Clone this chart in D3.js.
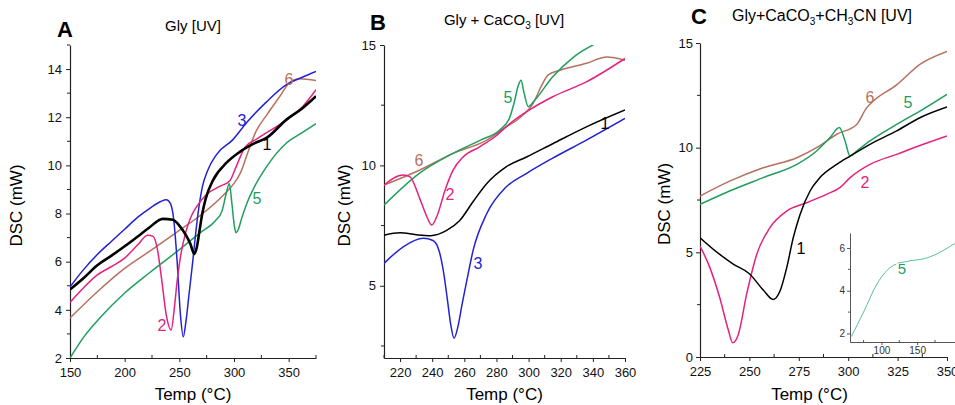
<!DOCTYPE html>
<html>
<head>
<meta charset="utf-8">
<script src="https://cdn.jsdelivr.net/npm/d3@7"></script>
<style>
  body { margin: 0; background: #fff; }
  svg text { font-family: "Liberation Sans", Arial, sans-serif; }
</style>
</head>
<body>
<div id="chart"></div>
<script>
// ---- data: [temp, DSC] ----
// panel A: Gly [UV]
var gly1 = [[150,4.84],[162,5.3],[175,5.85],[188,6.25],[200,6.64],[212,7.05],[222,7.4],[235,7.78],[244,7.74],[250,7.5],[256,7.1],[260,6.75],[263.7,6.32],[266,6.6],[268.5,7.3],[271,8.0],[274,8.6],[281,9.4],[293,10.1],[305,10.55],[318,10.9],[330,11.15],[348,11.9],[362,12.35],[375,12.87]];
var gly2 = [[150,4.31],[162,4.9],[175,5.45],[188,5.8],[200,6.15],[212,6.7],[221,7.1],[226,7.05],[230,6.5],[234,5.2],[238,3.8],[242.5,3.16],[245.5,4.1],[248,5.2],[251,6.2],[256,7.25],[261,7.9],[266,8.3],[275,8.8],[287,9.13],[296,9.35],[302,9.95],[310,10.75],[321,11.1],[345,11.8],[362,12.4],[375,13.14]];
var gly3 = [[150,4.95],[162,5.65],[175,6.3],[188,6.85],[200,7.35],[212,7.85],[224,8.25],[233,8.5],[238,8.57],[242,8.4],[245,7.7],[248,6.0],[251,3.8],[253.6,2.88],[256,3.5],[259,4.7],[262,5.9],[265,7.2],[268,8.3],[271,9.1],[276,9.8],[284,10.45],[299,11.07],[312,11.8],[330,12.65],[348,13.35],[362,13.65],[375,13.9]];
var gly5 = [[150,2.0],[163,2.9],[177,3.65],[200,4.7],[223,5.55],[250,6.5],[269,7.2],[283,7.7],[289,8.1],[293,8.85],[295.7,9.25],[298,8.45],[300,7.6],[301.8,7.2],[304,7.35],[307,7.8],[312,8.45],[318,9.05],[330,9.96],[348,10.93],[362,11.35],[375,11.73]];
var gly6 = [[150,3.66],[175,4.75],[200,5.72],[225,6.5],[250,7.3],[270,7.95],[290,8.75],[300,9.25],[306,9.7],[312,10.45],[320,11.4],[330,12.1],[342,12.87],[351,13.45],[360,13.6],[375,13.52]];

// panel B: Gly + CaCO3 [UV]
var caco1 = [[210,7.1],[220,7.2],[230,7.12],[239,7.08],[249,7.3],[257,7.7],[265.5,8.5],[274,9.25],[286,9.94],[299,10.36],[315,10.9],[336,11.6],[360,12.3]];
var caco2 = [[210,9.18],[222,9.6],[226,9.53],[232.4,8.6],[236.5,7.9],[239.7,7.52],[243,7.9],[248,8.97],[253,9.8],[259.4,10.36],[269.8,10.78],[279,11.19],[288.4,11.74],[298.8,12.23],[315,12.85],[336,13.47],[360,14.44]];
var caco3 = [[210,5.93],[222,6.62],[234.5,6.97],[240.5,6.88],[244.5,6.4],[247,5.6],[249.5,4.4],[251.5,3.4],[253.6,2.82],[256,3.3],[258.5,4.2],[261.5,5.2],[265.5,6.48],[274,8.0],[286,9.1],[298.8,9.67],[315,10.3],[336,11.05],[360,11.95]];
var caco5 = [[210,8.35],[232,9.67],[253,10.5],[270,11.05],[282,11.47],[288,11.95],[291,12.6],[293.5,13.3],[295.3,13.54],[297.2,13.0],[299.8,12.44],[303,12.64],[315,13.68],[328,14.5],[346,15.2]];
var caco6 = [[210,9.18],[232,9.8],[253,10.5],[274,11.05],[286,11.6],[295,12.0],[303,12.6],[308,13.3],[312,13.75],[319.5,13.95],[336,14.24],[348.6,14.5],[360,14.37]];

// panel C: Gly+CaCO3+CH3CN [UV]
var acn1 = [[225,5.7],[235,4.9],[242,4.43],[250,3.98],[257,3.2],[262,2.75],[265.5,3.15],[268.9,4.27],[272.2,5.7],[275.6,6.8],[280.7,7.93],[285.7,8.57],[294.2,9.2],[301,9.6],[311,10.16],[324.5,10.8],[336.3,11.43],[350,11.94]];
var acn2 = [[225,5.3],[230,4.27],[235,2.83],[239.3,1.3],[241.5,0.68],[244.4,1.08],[248.6,3.0],[253.7,4.9],[260.4,6.18],[268.9,6.97],[279,7.37],[289,7.77],[295.8,8.09],[301,8.57],[311,9.2],[324.5,9.68],[338,10.16],[350,10.56]];
var acn5 = [[225,7.29],[240,7.93],[257,8.57],[274,9.2],[284,9.84],[290.8,10.48],[295.5,10.96],[298.4,10.32],[300.9,9.6],[304.3,9.84],[311,10.32],[324.5,11.11],[336.3,11.75],[350,12.55]];
var acn6 = [[225,7.69],[240,8.4],[257,9.04],[274,9.52],[284,10.0],[294.2,10.64],[304.3,11.11],[309.3,11.9],[312.7,12.23],[324.5,13.0],[336.3,13.98],[350,14.6]];
// inset of panel C, curve 5
var inset5a = [[58,1.86],[75,3.0],[94,4.33],[105,4.85],[117,5.19],[121,5.25]];
var inset5b = [[123,5.29],[140,5.4],[160,5.5],[180,5.76],[195,6.05],[210,6.35]];

// ticks
var ticksA_x = [150, 200, 250, 300, 350], minorA_x = [175, 225, 275, 325, 375];
var ticksA_y = [2, 4, 6, 8, 10, 12, 14], minorA_y = [3, 5, 7, 9, 11, 13, 15];
var ticksB_x = [220, 240, 260, 280, 300, 320, 340, 360], minorB_x = [210, 230, 250, 270, 290, 310, 330, 350];
var ticksB_y = [5, 10, 15], minorB_y = [2.5, 7.5, 12.5];
var ticksC_x = [225, 250, 275, 300, 325, 350], minorC_x = [237.5, 262.5, 287.5, 312.5, 337.5];
var ticksC_y = [0, 5, 10, 15], minorC_y = [2.5, 7.5, 12.5];
var ticksIn_x = [100, 150], ticksIn_y = [2, 4, 6];

var col = {"1": "#000000", "2": "#e3227f", "3": "#2222d4", "5": "#1f9e5e", "6": "#b8705f"};
var fnt = "Liberation Sans, Arial, sans-serif";

var svg = d3.select("#chart").append("svg")
  .attr("width", 955).attr("height", 405);

var clipN = 0;
function panel(p) {
  var x = d3.scaleLinear().domain(p.xd).range(p.xr);
  var y = d3.scaleLinear().domain(p.yd).range(p.yr);
  var g = svg.append("g");

  var id = "clip" + (clipN++);
  svg.append("clipPath").attr("id", id).append("rect")
    .attr("x", p.xr[0]).attr("y", p.yr[1])
    .attr("width", p.xr[1] - p.xr[0]).attr("height", p.yr[0] - p.yr[1]);

  // axes
  var xa = g.append("g").attr("transform", "translate(0," + p.yr[0] + ")")
    .call(d3.axisBottom(x).tickValues(p.tx).tickSize(4).tickPadding(6).tickSizeOuter(0).tickFormat(d3.format("d")));
  xa.append("g").selectAll("line").data(p.mx).join("line")
    .attr("x1", d => x(d)).attr("x2", d => x(d)).attr("y1", 0).attr("y2", -3)
    .attr("stroke", "#222");
  var ya = g.append("g").attr("transform", "translate(" + p.xr[0] + ",0)")
    .call(d3.axisLeft(y).tickValues(p.ty).tickSize(4).tickPadding(p.ypad).tickSizeOuter(0).tickFormat(d3.format("d")));
  ya.append("g").selectAll("line").data(p.my).join("line")
    .attr("y1", d => y(d)).attr("y2", d => y(d)).attr("x1", 0).attr("x2", -3)
    .attr("stroke", "#222");
  g.selectAll(".domain").attr("stroke", "#222").attr("stroke-width", 1.2);
  g.selectAll(".tick line").attr("stroke", "#222");
  g.selectAll(".tick text").attr("font-size", 13).attr("fill", "#111").attr("font-family", fnt);

  // curves
  var line = d3.line().x(d => x(d[0])).y(d => y(d[1])).curve(d3.curveMonotoneX);
  g.append("g").attr("clip-path", "url(#" + id + ")")
    .selectAll("path").data(p.series).join("path")
      .attr("d", d => line(d.values))
      .attr("fill", "none")
      .attr("stroke", d => col[d.name])
      .attr("stroke-width", d => d.w || 1.5)
      .attr("stroke-linejoin", "round");

  // curve numbers
  g.selectAll(".lab").data(p.labels).join("text")
    .attr("x", d => d[1]).attr("y", d => d[2])
    .attr("font-size", 16).attr("text-anchor", "middle").attr("dy", "0.35em")
    .attr("font-family", fnt)
    .attr("fill", d => col[d[0]])
    .text(d => d[0]);

  // axis titles
  g.append("text").attr("x", (p.xr[0] + p.xr[1]) / 2 + p.xt).attr("y", 400)
    .attr("text-anchor", "middle").attr("font-size", 17).attr("font-family", fnt).text("Temp (°C)");
  g.append("text").attr("transform", "translate(" + p.yl + "," + ((p.yr[0] + p.yr[1]) / 2 + 4) + ") rotate(-90)")
    .attr("text-anchor", "middle").attr("font-size", 17).attr("font-family", fnt).text("DSC (mW)");

  // panel letter + title
  g.append("text").attr("x", p.letter[1]).attr("y", p.letter[2]).attr("font-family", fnt)
    .attr("font-size", 22).attr("font-weight", "bold").text(p.letter[0]);
  var t = g.append("text").attr("x", p.title[0]).attr("y", p.title[1])
    .attr("text-anchor", "middle").attr("font-size", p.title[2] || 15).attr("font-family", fnt);
  p.titleParts.forEach(function(s) {
    if (s[1]) {
      t.append("tspan").attr("font-size", 10).attr("dy", 4).text(s[0]);
    } else {
      t.append("tspan").attr("dy", s[2] || 0).text(s[0]);
    }
  });
  return {x: x, y: y};
}

panel({
  xd: [150, 375], xr: [70, 316], yd: [2, 15], yr: [358, 45],
  tx: ticksA_x, mx: minorA_x, ty: ticksA_y, my: minorA_y, ypad: 4,
  series: [
    {name: "6", values: gly6}, {name: "5", values: gly5}, {name: "3", values: gly3},
    {name: "2", values: gly2}, {name: "1", values: gly1, w: 2.6}
  ],
  labels: [["3", 242, 120], ["1", 267, 144], ["6", 289, 79], ["5", 257, 198], ["2", 162, 325]],
  xt: 0, yl: 22,
  letter: ["A", 57, 37], title: [193, 31],
  titleParts: [["Gly [UV]"]]
});

panel({
  xd: [210, 360], xr: [384, 625], yd: [2, 15], yr: [358, 45],
  tx: ticksB_x, mx: minorB_x, ty: ticksB_y, my: minorB_y, ypad: 4,
  series: [
    {name: "6", values: caco6}, {name: "5", values: caco5}, {name: "2", values: caco2},
    {name: "3", values: caco3}, {name: "1", values: caco1}
  ],
  labels: [["6", 419, 160], ["2", 450, 194], ["5", 508, 97], ["1", 605, 123], ["3", 478, 263]],
  xt: 0, yl: 350,
  letter: ["B", 370, 30], title: [504, 25],
  titleParts: [["Gly + CaCO"], ["3", true], [" [UV]", false, -4]]
});

panel({
  xd: [225, 350], xr: [700, 947], yd: [0, 15], yr: [357, 43],
  tx: ticksC_x, mx: minorC_x, ty: ticksC_y, my: minorC_y, ypad: 3,
  series: [
    {name: "6", values: acn6}, {name: "5", values: acn5}, {name: "2", values: acn2},
    {name: "1", values: acn1}
  ],
  labels: [["6", 870, 97], ["5", 908, 102], ["2", 865, 182], ["1", 801, 248]],
  xt: -14, yl: 670,
  letter: ["C", 691, 24], title: [822, 21, 16],
  titleParts: [["Gly+CaCO"], ["3", true], ["+CH", false, -4], ["3", true], ["CN [UV]", false, -4]]
});

// inset in panel C
var ix = d3.scaleLinear().domain([56, 210]).range([850, 960]);
var iy = d3.scaleLinear().domain([1.6, 6.7]).range([342, 233]);
var ig = svg.append("g");
ig.append("g").attr("transform", "translate(0,342)")
  .call(d3.axisBottom(ix).tickValues(ticksIn_x).tickSize(3).tickPadding(2).tickSizeOuter(0).tickFormat(d3.format("d")));
ig.append("g").attr("transform", "translate(850,0)")
  .call(d3.axisLeft(iy).tickValues(ticksIn_y).tickSize(3).tickPadding(2).tickSizeOuter(0).tickFormat(d3.format("d")));
ig.append("g").selectAll("line").data([3, 5]).join("line")
  .attr("x1", 850).attr("x2", 848).attr("y1", d => iy(d)).attr("y2", d => iy(d)).attr("stroke", "#555");
ig.append("g").selectAll("line").data([75, 125, 175]).join("line")
  .attr("y1", 342).attr("y2", 340).attr("x1", d => ix(d)).attr("x2", d => ix(d)).attr("stroke", "#555");
ig.selectAll(".domain").attr("stroke", "#555");
ig.selectAll(".tick line").attr("stroke", "#555");
ig.selectAll(".tick text").attr("font-size", 10).attr("fill", "#333").attr("font-family", fnt);
var iline = d3.line().x(d => ix(d[0])).y(d => iy(d[1])).curve(d3.curveMonotoneX);
ig.selectAll("path.c").data([inset5a, inset5b]).join("path").attr("class", "c")
  .attr("d", iline).attr("fill", "none").attr("stroke", "#5cbf95").attr("stroke-width", 1);
ig.append("text").attr("x", 902).attr("y", 274).attr("text-anchor", "middle")
  .attr("font-size", 15).attr("font-family", fnt).attr("fill", col["5"]).text("5");
</script>
</body>
</html>
